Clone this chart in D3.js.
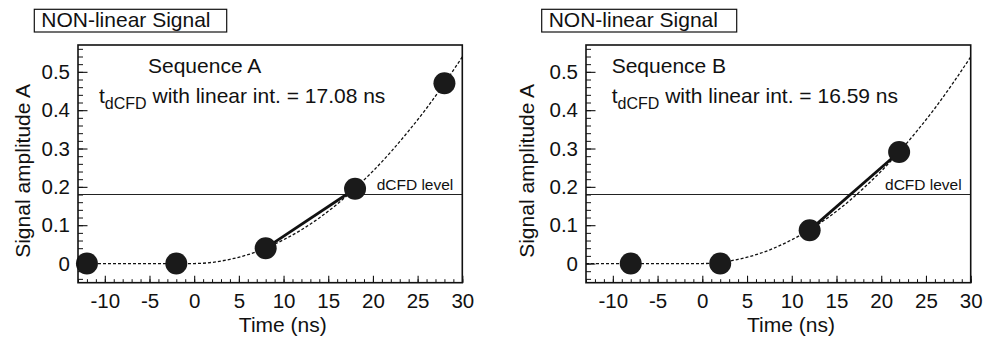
<!DOCTYPE html>
<html>
<head>
<meta charset="utf-8">
<script src="https://cdn.jsdelivr.net/npm/d3@7"></script>
<style>
  body { margin: 0; background: #fff; }
  svg { display: block; font-family: "Liberation Sans", Arial, Helvetica, sans-serif; }
</style>
</head>
<body>
<svg id="chart" width="986" height="340"></svg>
<script>
// sampled points of each sequence
var timesA = [-12, -2, 8, 18, 28];
var ampsA  = [0, 0, 0.04, 0.195, 0.47];
var timesB = [-8, 2, 12, 22];
var ampsB  = [0, 0, 0.087, 0.291];

// underlying (non-linear) signal
var curveT   = [-13, -10, -6, -2, 0, 2, 4, 6, 8, 10, 12, 14, 16, 18, 20, 22, 24, 26, 28, 30];
var curveAmp = [0, 0, 0, 0, 0, 0.003, 0.011, 0.023, 0.04, 0.062, 0.088, 0.119, 0.155, 0.196, 0.241, 0.291, 0.346, 0.405, 0.47, 0.539];

var dcfdLevel = 0.18;
var xTicks = [-10, -5, 0, 5, 10, 15, 20, 25, 30];
var yTicks = [0, 0.1, 0.2, 0.3, 0.4, 0.5];
var results = ['17.08', '16.59'];
var seqNames = ['Sequence A', 'Sequence B'];

var svg = d3.select('#chart');

drawPanel({ left: 78, top: 45, w: 384.3, h: 237.7, times: timesA, amps: ampsA,
	name: seqNames[0], res: results[0], seqX: 70, tX: 21, boxX: 34.3, boxW: 192.4, lblX: 30, id: 'a' });
drawPanel({ left: 586, top: 45, w: 384.7, h: 237.7, times: timesB, amps: ampsB,
	name: seqNames[1], res: results[1], seqX: 25.7, tX: 25.7, boxX: 541.7, boxW: 195, lblX: 534, id: 'b' });

function drawPanel(o) {
	var x = d3.scaleLinear().domain([-13, 30]).range([0, o.w]);
	var y = d3.scaleLinear().domain([-0.05, 0.57]).range([o.h, 0]);

	//title box
	svg.append('rect')
		.attr('x', o.boxX).attr('y', 9.3)
		.attr('width', o.boxW).attr('height', 22.7)
		.style('fill', 'none').style('stroke', '#111').style('stroke-width', 1.2);
	svg.append('text')
		.attr('x', o.boxX + 7).attr('y', 26.5)
		.style('font-size', '21px').style('fill', '#111')
		.text('NON-linear Signal');

	//y label
	svg.append('text')
		.attr('transform', 'translate(' + o.lblX + ',' + (o.top + o.h / 2 + 7) + ') rotate(-90)')
		.attr('text-anchor', 'middle')
		.style('font-size', '21px').style('fill', '#111')
		.text('Signal amplitude A');

	var g = svg.append('g').attr('transform', 'translate(' + o.left + ',' + o.top + ')');

	g.append('clipPath').attr('id', 'clip_' + o.id)
		.append('rect').attr('width', o.w).attr('height', o.h);

	//minor ticks first
	g.append('g')
		.call(d3.axisLeft(y).tickValues(d3.range(-0.04, 0.57, 0.02)).tickSize(-5).tickFormat(''))
		.call(s => s.select('.domain').remove());
	g.append('g')
		.attr('transform', 'translate(0,' + o.h + ')')
		.call(d3.axisBottom(x).tickValues(d3.range(-13, 31, 1)).tickSize(-3.5).tickFormat(''))
		.call(s => s.select('.domain').remove());

	//major ticks with labels
	var ya = g.append('g')
		.call(d3.axisLeft(y).tickValues(yTicks).tickSize(-9.5).tickPadding(8).tickFormat(d => String(d)))
		.call(s => s.select('.domain').remove());
	var xa = g.append('g')
		.attr('transform', 'translate(0,' + o.h + ')')
		.call(d3.axisBottom(x).tickValues(xTicks).tickSize(-7).tickPadding(10.5).tickFormat(d => String(d)))
		.call(s => s.select('.domain').remove());
	[ya, xa].forEach(a => {
		a.selectAll('line').style('stroke', '#111').style('stroke-width', 1.1);
		a.selectAll('text').style('font-size', '20.5px').style('fill', '#111').attr('font-family', null);
	});
	g.selectAll('.tick line').style('stroke', '#111');

	//x label
	svg.append('text')
		.attr('x', o.left + x(5)).attr('y', 331.5)
		.style('font-size', '21px').style('fill', '#111')
		.text('Time (ns)');

	var plot = g.append('g').attr('clip-path', 'url(#clip_' + o.id + ')');

	//dCFD level
	plot.append('line')
		.attr('x1', 0).attr('x2', o.w)
		.attr('y1', y(dcfdLevel)).attr('y2', y(dcfdLevel))
		.style('stroke', '#222').style('stroke-width', 1.2);
	g.append('text')
		.attr('x', o.w - 9).attr('y', y(dcfdLevel) - 5)
		.attr('text-anchor', 'end')
		.style('font-size', '15.5px').style('fill', '#111')
		.text('dCFD level');

	//signal curve
	var curve = d3.line()
		.x((d, i) => x(curveT[i]))
		.y(d => y(d))
		.curve(d3.curveMonotoneX);
	plot.append('path')
		.attr('d', curve(curveAmp))
		.style('fill', 'none').style('stroke', '#111')
		.style('stroke-width', 1.3).style('stroke-dasharray', '3,2');

	//linear interpolation between the two samples around the level
	var k = o.amps.findIndex(a => a >= dcfdLevel);
	plot.append('line')
		.attr('x1', x(o.times[k - 1])).attr('y1', y(o.amps[k - 1]))
		.attr('x2', x(o.times[k])).attr('y2', y(o.amps[k]))
		.style('stroke', '#111').style('stroke-width', 2.8);

	//samples
	g.selectAll('circle.pt').data(o.times).enter()
		.append('circle').attr('class', 'pt')
		.attr('cx', d => x(d))
		.attr('cy', (d, i) => y(o.amps[i]))
		.attr('r', 11)
		.style('fill', '#1a1a1a');

	//frame
	g.append('rect')
		.attr('width', o.w).attr('height', o.h)
		.style('fill', 'none').style('stroke', '#111').style('stroke-width', 1.6);

	//annotations
	g.append('text')
		.attr('x', o.seqX).attr('y', 73.3 - o.top)
		.style('font-size', '21px').style('fill', '#111')
		.text(o.name);
	var t = g.append('text')
		.attr('x', o.tX).attr('y', 103.3 - o.top)
		.style('font-size', '21px').style('fill', '#111');
	t.append('tspan').text('t');
	t.append('tspan').attr('dy', 6).style('font-size', '16px').text('dCFD');
	t.append('tspan').attr('dy', -6).text(' with linear int. = ' + o.res + ' ns');
}
</script>
</body>
</html>
